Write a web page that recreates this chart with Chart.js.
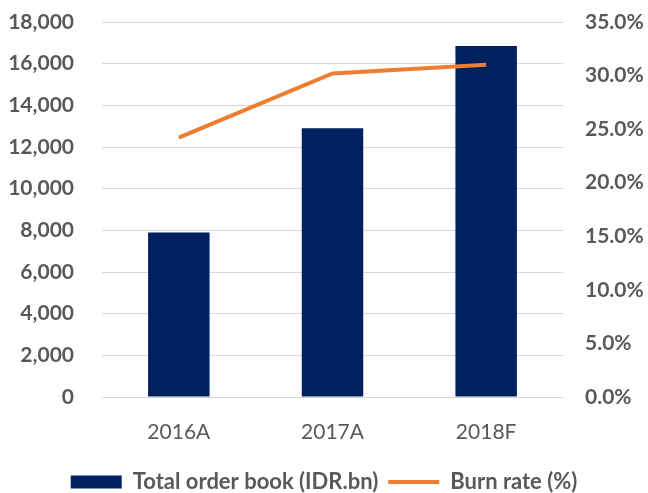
<!DOCTYPE html>
<html>
<head>
<meta charset="utf-8">
<script src="https://cdn.jsdelivr.net/npm/chart.js@4"></script>
<style>
  html, body { margin: 0; padding: 0; background: #ffffff; }
  #wrap { width: 648px; height: 493px; position: relative; }
</style>
</head>
<body>
<div id="wrap"><canvas id="c" width="648" height="493"></canvas></div>
<script>
const categories = ["2016A", "2017A", "2018F"];
const orderBook = [7900, 12900, 16850];
const burnRate = [24.2, 30.2, 31.0];
const leftTicks = [0, 2000, 4000, 6000, 8000, 10000, 12000, 14000, 16000, 18000];
const rightTicks = [0, 5, 10, 15, 20, 25, 30, 35];

const FONT = "Lato, 'Open Sans', sans-serif";
const GREY = "#595959";

new Chart(document.getElementById("c"), {
  type: "bar",
  data: {
    labels: categories,
    datasets: [
      {
        type: "bar",
        label: "Total order book (IDR.bn)",
        data: orderBook,
        backgroundColor: "#002060",
        borderWidth: 0,
        categoryPercentage: 1.0,
        barPercentage: 0.4,
        yAxisID: "y",
        order: 1
      },
      {
        type: "line",
        label: "Burn rate (%)",
        data: burnRate,
        borderColor: "#ED7D31",
        backgroundColor: "#ED7D31",
        borderWidth: 4,
        pointRadius: 0,
        tension: 0,
        yAxisID: "y1",
        order: 0
      }
    ]
  },
  options: {
    responsive: false,
    animation: false,
    layout: { padding: { top: 22, left: 0, right: 0, bottom: -10 } },
    plugins: {
      tooltip: { enabled: false },
      legend: {
        position: "bottom",
        labels: {
          usePointStyle: true,
          pointStyleWidth: 51,
          boxHeight: 13,
          padding: 10,
          color: GREY,
          font: { family: FONT, size: 22, weight: "bold" },
          sort: (a, b) => a.datasetIndex - b.datasetIndex,
          generateLabels: (chart) => chart.data.datasets.map((ds, i) => ({
            text: ds.label,
            datasetIndex: i,
            fillStyle: ds.type === "line" ? ds.borderColor : ds.backgroundColor,
            strokeStyle: ds.type === "line" ? ds.borderColor : ds.backgroundColor,
            lineWidth: ds.type === "line" ? 4 : 0,
            pointStyle: ds.type === "line" ? "line" : "rect",
            fontColor: GREY,
            hidden: false
          }))
        }
      }
    },
    scales: {
      x: {
        grid: { display: false },
        border: { display: false },
        ticks: { color: GREY, padding: 15, font: { family: FONT, size: 21 } },
        afterFit: (s) => { s.height = 64; }
      },
      y: {
        position: "left",
        min: 0, max: 18000,
        afterBuildTicks: (s) => { s.ticks = leftTicks.map(v => ({ value: v })); },
        grid: { color: "#D9D9D9", lineWidth: 1, drawTicks: false },
        border: { display: false },
        ticks: {
          color: GREY, padding: 28,
          font: { family: FONT, size: 21, weight: "bold" },
          callback: (v) => v.toLocaleString("en-US")
        },
        afterFit: (s) => { s.width = 102; s.paddingTop = 0; s.paddingBottom = 0; }
      },
      y1: {
        position: "right",
        min: 0, max: 35,
        afterBuildTicks: (s) => { s.ticks = rightTicks.map(v => ({ value: v })); },
        grid: { display: false, drawTicks: false },
        border: { display: false },
        ticks: {
          color: GREY, padding: 22,
          font: { family: FONT, size: 21, weight: "bold" },
          callback: (v) => v.toFixed(1) + "%"
        },
        afterFit: (s) => { s.width = 85; s.paddingTop = 0; s.paddingBottom = 0; }
      }
    }
  }
});
</script>
</body>
</html>
